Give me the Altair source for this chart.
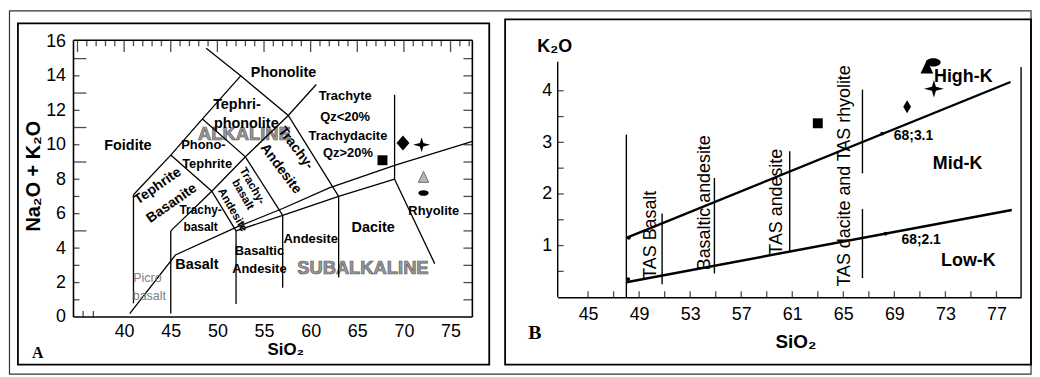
import altair as alt
import pandas as pd

SANS = "Liberation Sans, Arial, DejaVu Sans"
SERIF = "Liberation Serif, DejaVu Serif"

# ================= Panel A : TAS diagram =================
a_x_domain = [34.57, 77.34]
a_y_domain = [0.0, 16.07]
a_x_labels = [40, 45, 50, 55, 60, 65, 70, 75]
a_y_labels = [0, 2, 4, 6, 8, 10, 12, 14, 16]
a_top_major = [35, 40, 45, 50, 55, 60, 65, 70, 75]
a_top_minor = [36, 37, 38, 39, 41, 42, 43, 44, 46, 47, 48, 49, 51, 52, 53, 54,
               56, 57, 58, 59, 61, 62, 63, 64, 66, 67, 68, 69, 71, 72, 73, 74, 76, 77]
a_left_long = [5, 9, 11, 13, 15]
a_left_short = [1, 2, 3, 4, 6, 7, 8, 10, 12, 14]
a_right_ticks = [1, 2, 3, 4, 5, 6, 7, 8, 9, 10, 11, 12, 13, 14, 15]
a_bottom_ticks = [35.6, 36.7]

# field boundaries (SiO2, Na2O+K2O)
bnd_41 = [(41.0, 0.8), (41.0, 7.1)]
bnd_45 = [(45.0, 0.2), (45.0, 5.0)]
bnd_52 = [(52.0, 0.75), (52.0, 5.0)]
bnd_57 = [(57.0, 1.7), (57.0, 5.9)]
bnd_63 = [(63.0, 2.3), (63.0, 7.0)]
bnd_69 = [(69.0, 8.0), (69.0, 12.9)]
bnd_subalk_top = [(52.0, 5.0), (57.0, 5.9), (63.0, 7.0), (69.0, 8.0)]
bnd_dac_rhy = [(69.0, 8.0), (73.3, 3.1)]
bnd_alk_divide = [(40.6, 0.2), (45.5, 3.6), (52.0, 5.2), (57.0, 6.3), (62.0, 7.5),
                  (69.0, 8.8), (77.34, 10.2)]
bnd_foidite = [(41.0, 7.1), (45.0, 9.4), (48.4, 11.5), (52.5, 14.0)]
bnd_phonolite = [(48.8, 15.6), (52.5, 14.0), (57.6, 11.7), (63.0, 7.0)]
bnd_trachy = [(45.0, 5.0), (49.4, 7.3), (53.0, 9.3), (57.6, 11.7), (60.6, 13.5)]
bnd_tephrite = [(45.0, 9.4), (49.4, 7.3), (52.0, 5.0)]
bnd_phonotephrite = [(48.4, 11.5), (53.0, 9.3), (57.0, 5.9)]
a_boundaries = [bnd_41, bnd_45, bnd_52, bnd_57, bnd_63, bnd_69, bnd_subalk_top,
                bnd_dac_rhy, bnd_alk_divide, bnd_foidite, bnd_phonolite, bnd_trachy,
                bnd_tephrite, bnd_phonotephrite]

# field names
a_lab13_text = ["Trachyte", "Qz<20%", "Trachydacite", "Qz>20%", "Phono-", "Tephrite",
                "Basaltic", "Andesite", "Andesite", "Rhyolite"]
a_lab13_x = [63.7, 63.7, 64.0, 64.0, 48.5, 48.9, 54.5, 54.5, 60.0, 73.2]
a_lab13_y = [12.8, 11.6, 10.5, 9.5, 10.0, 8.9, 3.86, 2.76, 4.55, 6.16]

a_lab15_text = ["Foidite", "Phonolite", "Tephri-", "phonolite", "Dacite", "Basalt"]
a_lab15_x = [40.4, 57.1, 52.1, 53.1, 66.7, 47.8]
a_lab15_y = [9.9, 14.15, 12.3, 11.2, 5.18, 3.0]

a_lab12_text = ["Trachy-", "basalt"]
a_lab12_x = [48.2, 48.2]
a_lab12_y = [6.2, 5.2]

a_picro_text = ["Picro", "basalt"]
a_picro_x = [42.5, 42.7]
a_picro_y = [2.25, 1.2]

a_rot_tb_text = ["Tephrite", "Basanite"]
a_rot_tb_x = [43.6, 45.1]
a_rot_tb_y = [7.6, 6.6]

a_rot_bta_text = ["Trachy-", "basalt", "Andesite"]
a_rot_bta_x = [53.7, 52.7, 51.6]
a_rot_bta_y = [7.6, 7.1, 6.2]

a_rot_ta_text = ["Trachy-", "Andesite"]
a_rot_ta_x = [58.4, 56.8]
a_rot_ta_y = [9.8, 8.6]

a_series_text = ["ALKALINE", "SUBALKALINE"]
a_series_x = [52.9, 65.6]
a_series_y = [10.6, 2.82]

# samples
a_square = [(67.7, 9.1)]
a_diamond = [(69.9, 10.1)]
a_star = [(71.9, 10.0)]
a_triangle = [(72.1, 8.1)]
a_ellipse = [(72.1, 7.2)]

# ================= Panel B : K2O vs SiO2 =================
b_x_domain = [42.62, 78.93]
b_y_domain = [0.0, 4.98]
b_x_labels = [45, 49, 53, 57, 61, 65, 69, 73, 77]
b_x_ticks = [45, 47, 49, 51, 53, 55, 57, 59, 61, 63, 65, 67, 69, 71, 73, 75, 77]
b_y_labels = [1, 2, 3, 4]
b_y_ticks = [0.5, 1, 1.5, 2, 2.5, 3, 3.5, 4]

k_high = [(48.0, 1.15), (78.1, 4.17)]
k_low = [(48.0, 0.29), (78.2, 1.69)]
k_v48 = [(48.0, 0.0), (48.0, 3.15)]
seg_basalt = [(50.8, 0.25), (50.8, 1.62)]
seg_bas_and = [(54.9, 0.46), (54.9, 2.31)]
seg_andesite = [(60.8, 0.87), (60.8, 2.83)]
seg_dacite_up = [(66.5, 2.40), (66.5, 4.02)]
seg_dacite_low = [(66.5, 0.37), (66.5, 1.71)]
b_axis_left = [(42.62, 0.0), (42.62, 4.56)]
b_axis_right = [(78.93, 0.0), (78.93, 4.46)]
b_lines = [k_v48, seg_basalt, seg_bas_and, seg_andesite,
           seg_dacite_up, seg_dacite_low, b_axis_left, b_axis_right]

b_rot_text = ["TAS Basalt", "Basaltic andesite", "TAS andesite", "TAS dacite and TAS rhyolite"]
b_rot_x = [49.9, 54.2, 59.8, 65.1]
b_rot_y = [1.21, 1.83, 1.85, 2.35]

b_small_text = ["68;3.1", "68;2.1"]
b_small_x = [70.5, 71.1]
b_small_y = [3.12, 1.10]

b_big_text = ["High-K", "Mid-K", "Low-K"]
b_big_x = [74.4, 73.96, 74.8]
b_big_y = [4.27, 2.58, 0.71]

b_square = [(63.0, 3.37)]
b_diamond = [(70.0, 3.69)]
b_star = [(72.1, 4.04)]
b_triangle = [(71.55, 4.45)]
b_ellipse = [(72.05, 4.55)]
b_dots = [(68.05, 3.17), (68.3, 1.23), (48.2, 1.15), (48.15, 0.35)]

# ---------------- helpers ----------------
STAR4 = "M0,-0.88L0.2,-0.2L1,0L0.2,0.2L0,0.88L-0.2,0.2L-1,0L-0.2,-0.2Z"
DIAMOND_A = "M0,-1L0.87,0L0,1L-0.87,0Z"
DIAMOND_B = "M0,-1L0.6,0L0,1L-0.6,0Z"
TRIANGLE = "M0,-1L0.85,0.8L-0.85,0.8Z"
ELLIPSE = "M-1,0A1,0.55,0,1,0,1,0A1,0.55,0,1,0,-1,0Z"


def enc_factory(domain, axis):
    def f(field):
        return alt.X(field, type="quantitative",
                     scale=alt.Scale(domain=domain, nice=False, zero=False), axis=axis)
    return f


def yenc_factory(domain, axis):
    def f(field):
        return alt.Y(field, type="quantitative",
                     scale=alt.Scale(domain=domain, nice=False, zero=False), axis=axis)
    return f


def poly_df(polys):
    rows = []
    for i, p in enumerate(polys):
        for j, (x, y) in enumerate(p):
            rows.append({"id": i, "ord": j, "x": x, "y": y})
    return pd.DataFrame(rows)


def pts_df(pts):
    return pd.DataFrame({"x": [p[0] for p in pts], "y": [p[1] for p in pts]})


def text_layer(xe, ye, texts, xs, ys, **mk):
    df = pd.DataFrame({"t": texts, "x": xs, "y": ys})
    return alt.Chart(df).mark_text(**mk).encode(x=xe("x"), y=ye("y"), text="t:N")


one = pd.DataFrame({"d": [0]})


def px_rect(x, x2, y, y2, sw, color="black"):
    return alt.Chart(one).mark_rect(filled=False, stroke=color, strokeWidth=sw).encode(
        x=alt.value(x), x2=alt.value(x2), y=alt.value(y), y2=alt.value(y2))


def px_text(txt, x, y, **mk):
    return alt.Chart(one).mark_text(text=txt, **mk).encode(x=alt.value(x), y=alt.value(y))


def ticks(df, xe, ye, orient, size, **off):
    return alt.Chart(df).mark_tick(orient=orient, size=size, thickness=1.3, color="black",
                                   **off).encode(x=xe("x"), y=ye("y"))


def marker(pts, xe, ye, shape, size, **style):
    return alt.Chart(pts_df(pts)).mark_point(shape=shape, size=size, opacity=1, **style).encode(
        x=xe("x"), y=ye("y"))


# ---------------- Panel A ----------------
axis_xa = alt.Axis(values=a_x_labels, title=None, ticks=False, domain=False, grid=False,
                   labelFontSize=18, labelFont=SANS, labelColor="black", labelPadding=6)
axis_ya = alt.Axis(values=a_y_labels, title=None, ticks=False, domain=False, grid=False,
                   labelFontSize=18, labelFont=SANS, labelColor="black", labelPadding=8)
xa = enc_factory(a_x_domain, axis_xa)
ya = yenc_factory(a_y_domain, axis_ya)

a_frame = pd.DataFrame({
    "x": [a_x_domain[0], a_x_domain[0], a_x_domain[0], a_x_domain[1]],
    "x2": [a_x_domain[1], a_x_domain[0], a_x_domain[1], a_x_domain[1]],
    "y": [a_y_domain[0], a_y_domain[0], a_y_domain[1], a_y_domain[0]],
    "y2": [a_y_domain[0], a_y_domain[1], a_y_domain[1], a_y_domain[1]],
})
frame_a = alt.Chart(a_frame).mark_rule(color="black", strokeWidth=1.6).encode(
    x=xa("x"), x2="x2:Q", y=ya("y"), y2="y2:Q")

lines_a = alt.Chart(poly_df(a_boundaries)).mark_line(color="black", strokeWidth=1.3).encode(
    x=xa("x"), y=ya("y"), detail="id:N", order="ord:Q")

ta_top_major = ticks(pd.DataFrame({"x": a_top_major, "y": a_y_domain[1]}), xa, ya,
                     "vertical", 12, yOffset=6)
ta_top_minor = ticks(pd.DataFrame({"x": a_top_minor, "y": a_y_domain[1]}), xa, ya,
                     "vertical", 6, yOffset=3)
ta_left_long = ticks(pd.DataFrame({"x": a_x_domain[0], "y": a_left_long}), xa, ya,
                     "horizontal", 13, xOffset=6.5)
ta_left_short = ticks(pd.DataFrame({"x": a_x_domain[0], "y": a_left_short}), xa, ya,
                      "horizontal", 6, xOffset=3)
ta_right = ticks(pd.DataFrame({"x": a_x_domain[1], "y": a_right_ticks}), xa, ya,
                 "horizontal", 9, xOffset=-4.5)
ta_bottom = ticks(pd.DataFrame({"x": a_bottom_ticks, "y": a_y_domain[0]}), xa, ya,
                  "vertical", 6, yOffset=-3)

bold = dict(font=SANS, fontWeight="bold", color="black")
series_a = text_layer(xa, ya, a_series_text, a_series_x, a_series_y, fontSize=18.5, font=SANS,
                      fontWeight="bold", color="#9a9a9a", stroke="#5a5a5a", strokeWidth=0.7)
txt_a = [
    text_layer(xa, ya, a_lab13_text, a_lab13_x, a_lab13_y, fontSize=13, **bold),
    text_layer(xa, ya, a_lab15_text, a_lab15_x, a_lab15_y, fontSize=14.5, **bold),
    text_layer(xa, ya, a_lab12_text, a_lab12_x, a_lab12_y, fontSize=12, **bold),
    text_layer(xa, ya, a_picro_text, a_picro_x, a_picro_y, fontSize=12.5, font=SANS,
               color="#808080"),
    text_layer(xa, ya, a_rot_tb_text, a_rot_tb_x, a_rot_tb_y, fontSize=14, angle=325, **bold),
    text_layer(xa, ya, a_rot_bta_text, a_rot_bta_x, a_rot_bta_y, fontSize=11.5, angle=60, **bold),
    text_layer(xa, ya, a_rot_ta_text, a_rot_ta_x, a_rot_ta_y, fontSize=14, angle=53, **bold),
]

mk_a = [
    marker(a_square, xa, ya, "square", 100, filled=True, color="black"),
    marker(a_diamond, xa, ya, DIAMOND_A, 225, filled=True, color="black"),
    marker(a_star, xa, ya, STAR4, 300, filled=True, color="black"),
    marker(a_triangle, xa, ya, TRIANGLE, 150, filled=True, fill="#b5b5b5",
           stroke="#6e6e6e", strokeWidth=1),
    marker(a_ellipse, xa, ya, ELLIPSE, 110, filled=True, color="black"),
]

deco_a = [
    px_rect(-64.5, 965, -29.5, 336.5, 1.2, "#333333"),
    px_rect(-56, 419, -17, 327, 1.8),
    px_text("Na₂O + K₂O", -40, 137, angle=270, fontSize=20, **bold),
    px_text("SiO₂", 214, 312, fontSize=17, **bold),
    px_text("A", -36, 315, fontSize=16, font=SERIF, fontWeight="bold", color="black"),
]

panel_a = alt.layer(frame_a, series_a, lines_a, ta_top_major, ta_top_minor, ta_left_long,
                    ta_left_short, ta_right, ta_bottom, *txt_a, *mk_a,
                    *deco_a).properties(width=402, height=279)

# ---------------- Panel B ----------------
axis_xb = alt.Axis(values=b_x_labels, title=None, ticks=False, domain=True, domainColor="black",
                   domainWidth=1.6, grid=False, labelFontSize=18, labelFont=SANS,
                   labelColor="black", labelPadding=8)
axis_yb = alt.Axis(values=b_y_labels, title=None, ticks=False, domain=False, grid=False,
                   labelFontSize=18, labelFont=SANS, labelColor="black", labelPadding=6)
xb = enc_factory(b_x_domain, axis_xb)
yb = yenc_factory(b_y_domain, axis_yb)

lines_b = alt.Chart(poly_df(b_lines)).mark_line(color="black", strokeWidth=1.4).encode(
    x=xb("x"), y=yb("y"), detail="id:N", order="ord:Q")
k_lines_b = alt.Chart(poly_df([k_high, k_low])).mark_line(color="black", strokeWidth=2.4).encode(
    x=xb("x"), y=yb("y"), detail="id:N", order="ord:Q")

tb_x = ticks(pd.DataFrame({"x": b_x_ticks, "y": 0.0}), xb, yb, "vertical", 6, yOffset=-3)
tb_y = ticks(pd.DataFrame({"x": b_x_domain[0], "y": b_y_ticks}), xb, yb, "horizontal", 6,
             xOffset=3)

txt_b = [
    text_layer(xb, yb, b_rot_text, b_rot_x, b_rot_y, fontSize=18, angle=270, font=SANS,
               color="black"),
    text_layer(xb, yb, b_small_text, b_small_x, b_small_y, fontSize=14, **bold),
    text_layer(xb, yb, b_big_text, b_big_x, b_big_y, fontSize=18, **bold),
]

mk_b = [
    marker(b_square, xb, yb, "square", 100, filled=True, color="black"),
    marker(b_diamond, xb, yb, DIAMOND_B, 169, filled=True, color="black"),
    marker(b_star, xb, yb, STAR4, 400, filled=True, color="black"),
    marker(b_triangle, xb, yb, TRIANGLE, 230, filled=True, color="black"),
    marker(b_ellipse, xb, yb, ELLIPSE, 220, filled=True, color="black"),
    marker(b_dots, xb, yb, "circle", 14, filled=True, color="black"),
]

deco_b = [
    px_rect(-53, 477, -21, 327, 1.8),
    px_text("K₂O", -3, 7, fontSize=18, **bold),
    px_text("SiO₂", 240, 304, fontSize=19, **bold),
    px_text("B", -23, 295, fontSize=20, font=SERIF, fontWeight="bold", color="black"),
]

panel_b = alt.layer(txt_b[0], lines_b, k_lines_b, tb_x, tb_y, txt_b[1], txt_b[2], *mk_b,
                    *deco_b).properties(width=467, height=259)

chart = alt.hconcat(panel_a, panel_b, spacing=86, bounds="flush", padding=0,
                    background="white").configure_view(strokeWidth=0)

chart.save("out.html", embed_options={"renderer": "svg", "actions": False})
